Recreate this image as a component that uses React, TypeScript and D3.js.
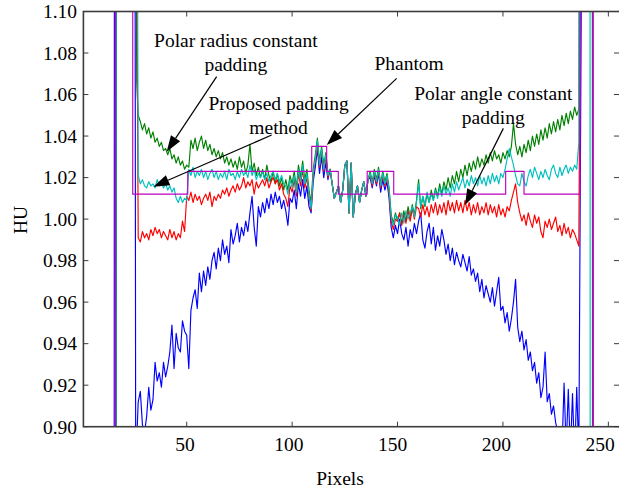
import React from "react";
import * as d3 from "d3";

// x axis = pixel index along the profile, y axis = HU
const xTicks = [50, 100, 150, 200, 250];
const yTicks = [0.9, 0.92, 0.94, 0.96, 0.98, 1.0, 1.02, 1.04, 1.06, 1.08, 1.1];
const yTickLabels = ["0.90", "0.92", "0.94", "0.96", "0.98", "1.00", "1.02", "1.04", "1.06", "1.08", "1.10"];

// profile values in 1/1000 HU, one per pixel starting at firstPixel
const firstPixel = 27;

const blueHU = [
  912, 917, 901, 897, 905, 919, 908, 913, 931, 922, // 27
  926, 919, 931, 924, 929, 936, 949, 928, 945, 938, // 37
  936, 951, 946, 944, 928, 956, 962, 966, 957, 974, // 47
  965, 975, 968, 977, 971, 980, 984, 976, 986, 980, // 57
  990, 983, 987, 979, 995, 988, 992, 998, 989, 996, // 67
  992, 999, 994, 1003, 1011, 996, 987, 1006, 1001, 1008, // 77
  1003, 1010, 1005, 1012, 1007, 1013, 1008, 1011, 1005, 1009, // 87
  1004, 997, 1010, 1008, 1014, 1005, 1017, 1011, 1019, 1010, // 97
  1016, 1006, 1003, 1018, 1025, 1034, 1022, 1030, 1020, 1027, // 107
  1019, 1024, 1017, 1010, 1013, 1016, 1008, 1014, 1026, 1028, // 117
  1003, 1027, 1001, 1012, 1016, 1008, 1014, 1018, 1011, 1019, // 127
  1020, 1015, 1021, 1016, 1022, 1013, 1019, 1014, 1018, 1010, // 137
  996, 991, 997, 993, 1000, 993, 990, 996, 987, 995, // 147
  991, 998, 993, 999, 1003, 990, 986, 994, 998, 988, // 157
  996, 985, 992, 987, 995, 990, 983, 988, 980, 986, // 167
  978, 984, 980, 977, 983, 979, 975, 982, 973, 976, // 177
  970, 974, 965, 971, 962, 968, 964, 960, 967, 958, // 187
  965, 972, 956, 958, 950, 955, 946, 952, 960, 971, // 197
  948, 941, 946, 937, 942, 932, 936, 927, 931, 921, // 207
  926, 914, 919, 936, 912, 916, 906, 910, 902, 898, // 217
  894, 888, 921, 889, 918, 887, 916, 884, 919, 886, // 227
];

const greenHU = [
  1050, 1047, 1043, 1046, 1041, 1044, 1039, 1042, 1037, 1039,
  1035, 1037, 1033, 1034, 1031, 1034, 1029, 1031, 1027, 1030,
  1026, 1028, 1024, 1026, 1025, 1038, 1034, 1039, 1033, 1037,
  1040, 1034, 1038, 1033, 1036, 1031, 1034, 1030, 1033, 1029,
  1032, 1027, 1030, 1026, 1029, 1025, 1028, 1024, 1030, 1025,
  1028, 1022, 1026, 1036, 1023, 1027, 1021, 1025, 1020, 1024,
  1019, 1026, 1021, 1018, 1023, 1017, 1022, 1016, 1020, 1014,
  1019, 1014, 1021, 1017, 1023, 1015, 1026, 1020, 1028, 1019,
  1024, 1014, 1008, 1024, 1031, 1039, 1028, 1035, 1026, 1032,
  1022, 1024, 1017, 1010, 1013, 1016, 1008, 1014, 1026, 1028,
  1003, 1027, 1001, 1012, 1016, 1008, 1014, 1018, 1011, 1019,
  1023, 1018, 1024, 1019, 1025, 1017, 1023, 1018, 1022, 1015,
  1002, 998, 1003, 999, 1003, 998, 1004, 999, 1006, 1001,
  1007, 1002, 1009, 1019, 1005, 1011, 1006, 1012, 1008, 1014,
  1009, 1015, 1011, 1017, 1012, 1018, 1014, 1020, 1015, 1021,
  1017, 1023, 1018, 1024, 1020, 1026, 1021, 1027, 1023, 1028,
  1024, 1030, 1025, 1029, 1026, 1031, 1027, 1032, 1028, 1033,
  1029, 1031, 1027, 1032, 1029, 1033, 1030, 1035, 1046, 1036,
  1031, 1035, 1030, 1036, 1032, 1038, 1033, 1040, 1035, 1041,
  1036, 1043, 1038, 1044, 1039, 1046, 1041, 1047, 1042, 1048,
  1043, 1050, 1045, 1051, 1046, 1052, 1048, 1054, 1050, 1053,
];

const redHU = [
  991, 989, 994, 991, 993, 990, 995, 992, 996, 993,
  995, 991, 994, 992, 990, 995, 991, 994, 990, 993,
  991, 999, 994, 1011, 1009, 1013, 1008, 1012, 1009, 1011,
  1007, 1010, 1012, 1009, 1013, 1006, 1011, 1009, 1012, 1010,
  1014, 1012, 1015, 1011, 1014, 1016, 1013, 1017, 1014, 1016,
  1020, 1015, 1018, 1016, 1019, 1012, 1018, 1015, 1017, 1019,
  1016, 1020, 1015, 1018, 1020, 1017, 1019, 1014, 1017, 1012,
  1010, 1006, 1016, 1013, 1019, 1011, 1022, 1016, 1024, 1015,
  1020, 1011, 1004, 1021, 1028, 1036, 1025, 1033, 1023, 1030,
  1020, 1024, 1017, 1010, 1013, 1016, 1008, 1014, 1026, 1028,
  1003, 1027, 1001, 1012, 1016, 1008, 1014, 1018, 1011, 1019,
  1021, 1016, 1022, 1017, 1023, 1015, 1021, 1016, 1020, 1012,
  999, 995, 1000, 999, 1003, 997, 1002, 998, 1004, 999,
  1005, 1000, 1006, 1005, 1001, 1007, 1002, 1006, 1001, 1007,
  1003, 1008, 1002, 1007, 1003, 1008, 1002, 1009, 1004, 1008,
  1003, 1009, 1004, 1008, 1003, 1009, 1004, 1008, 1002, 1007,
  1003, 1008, 1002, 1006, 1003, 1008, 1002, 1007, 1003, 1006,
  1001, 1007, 1002, 1005, 1001, 1006, 1004, 1009, 1013, 1017,
  1008, 1003, 999, 1002, 997, 1003, 999, 996, 1002, 998,
  1001, 994, 991, 999, 996, 1000, 995, 998, 1001, 994,
  997, 992, 998, 993, 996, 991, 995, 993, 990, 987,
];

const cyanHU = [
  1021, 1017, 1019, 1016, 1015, 1018, 1016, 1017, 1015, 1019,
  1016, 1018, 1015, 1017, 1014, 1016, 1013, 1015, 1010, 1008,
  1011, 1008, 1010, 1009, 1024, 1021, 1025, 1020, 1023, 1021,
  1024, 1020, 1023, 1019, 1022, 1024, 1020, 1023, 1019, 1022,
  1020, 1023, 1019, 1024, 1021, 1022, 1019, 1023, 1020, 1024,
  1021, 1023, 1020, 1026, 1021, 1024, 1019, 1022, 1020, 1023,
  1019, 1022, 1018, 1021, 1023, 1019, 1022, 1018, 1021, 1017,
  1016, 1012, 1019, 1015, 1021, 1013, 1024, 1018, 1026, 1017,
  1022, 1012, 1005, 1022, 1029, 1038, 1026, 1034, 1024, 1031,
  1021, 1024, 1017, 1010, 1013, 1016, 1008, 1014, 1026, 1028,
  1003, 1027, 1001, 1012, 1016, 1008, 1014, 1018, 1011, 1019,
  1022, 1017, 1023, 1018, 1024, 1016, 1022, 1017, 1021, 1014,
  1001, 997, 1002, 1001, 997, 1003, 998, 1004, 1000, 1003,
  1006, 1001, 1008, 1017, 1006, 1011, 1007, 1013, 1008, 1012,
  1009, 1014, 1010, 1015, 1011, 1016, 1012, 1015, 1011, 1017,
  1013, 1018, 1014, 1017, 1020, 1015, 1019, 1016, 1021, 1017,
  1020, 1016, 1021, 1017, 1020, 1016, 1021, 1017, 1022, 1018,
  1021, 1017, 1022, 1020, 1024, 1029, 1034, 1030, 1026, 1021,
  1017, 1016, 1022, 1018, 1016, 1021, 1024, 1020, 1025, 1022,
  1019, 1023, 1020, 1024, 1021, 1019, 1024, 1026, 1022, 1020,
  1025, 1021, 1024, 1026, 1022, 1025, 1023, 1026, 1024, 1037,
];

// edges of the object: [pixel, milli-HU], values off the axis range
const blueLead = [[14, 850], [15.6, 850], [15.7, 1150], [25.5, 1150], [25.8, 880]];
const blueTail = [[237.4, 1150], [242.7, 1150], [242.8, 850], [256, 850]];
const greenLead = [[14, 850], [16.6, 850], [16.7, 1150], [25.9, 1150], [26.3, 1066]];
const greenTail = [[236.3, 1150], [242.4, 1150], [242.5, 850], [256, 850]];
const redLead = [[14, 850], [16.3, 850], [16.4, 1150], [26.2, 1150]];
const redTail = [[236.9, 1150], [242.5, 1150], [242.6, 850], [256, 850]];
const cyanLead = [[14, 850], [16.4, 850], [16.5, 1150], [26.6, 1150]];
const cyanTail = [[236.2, 1150], [241.3, 1150], [241.4, 850], [256, 850]];

// phantom profile (piecewise constant)
const phantomHU = [
  [14, 850], [16.2, 850], [16.2, 1150], [24.4, 1150], [24.4, 1012], [50.5, 1012],
  [50.5, 1023], [109.3, 1023], [109.3, 1035], [116.4, 1035], [116.4, 1023],
  [121.9, 1023], [121.9, 1012], [135.6, 1012], [135.6, 1023], [148.2, 1023],
  [148.2, 1012], [201.3, 1012], [201.3, 1023], [210, 1023], [210, 1012],
  [236.6, 1012], [236.6, 1150], [242.6, 1150], [242.6, 850], [256, 850],
];

// annotations in data units
const labels = [
  { lines: ["Polar radius constant", "padding"], at: [73.3, 1.083] },
  { lines: ["Proposed padding", "method"], at: [93.6, 1.0526] },
  { lines: ["Phantom"], at: [155.5, 1.0718] },
  { lines: ["Polar angle constant", "padding"], at: [195.4, 1.0574] },
];
const arrows = [
  { from: [64.2, 1.0686], to: [40.5, 1.0325] },
  { from: [90.3, 1.0405], to: [34.2, 1.0156] },
  { from: [149.6, 1.0678], to: [116.4, 1.0357] },
  { from: [200.2, 1.0437], to: [182.0, 1.0068] },
];

const W = 619;
const H = 491;
const font = '"Liberation Serif", "Times New Roman", Times, serif';
const fs = 19.5;

const build = (lead: number[][], vals: number[], tail: number[][]) =>
  [...lead, ...vals.map((v, i) => [firstPixel + i, v]), ...tail].map((d) => [d[0], d[1] / 1000]);

const series = [
  { name: "blue", color: "#0000ff", pts: build(blueLead, blueHU, blueTail) },
  { name: "green", color: "#008000", pts: build(greenLead, greenHU, greenTail) },
  { name: "red", color: "#ff0000", pts: build(redLead, redHU, redTail) },
  { name: "cyan", color: "#00bfbf", pts: build(cyanLead, cyanHU, cyanTail) },
  { name: "phantom", color: "#bf00bf", pts: phantomHU.map((d) => [d[0], d[1] / 1000]) },
];

export default function App() {
  const x = d3.scaleLinear().domain([1, 256]).range([83.4, 621]);
  const y = d3.scaleLinear().domain([0.9, 1.1]).range([426.7, 11.5]);
  // tick labels in the source sit slightly left of their ticks
  const xLabel = d3.scaleLinear().domain([50, 250]).range([185, 600]);
  const [x0, x1] = x.range();
  const [y0, y1] = y.range();

  const line = d3
    .line<number[]>()
    .x((d) => x(d[0]))
    .y((d) => y(d[1]));

  const axisColor = "#3c3c3c";
  const txt = { fontFamily: font, fontSize: fs, fill: "#000" };

  return (
    <svg
      width={W}
      height={H}
      style={{ position: "absolute", left: 0, top: 0, background: "#fff", fontFamily: font }}
    >
      <defs>
        <clipPath id="plot">
          <rect x={x0} y={y1} width={x1 - x0} height={y0 - y1} />
        </clipPath>
      </defs>

      <g clipPath="url(#plot)">
        {series.map((s) => (
          <path
            key={s.name}
            d={line(s.pts) || ""}
            fill="none"
            stroke={s.color}
            strokeWidth={1.15}
            strokeLinejoin="round"
          />
        ))}
      </g>

      {/* axes box */}
      <rect x={x0} y={y1} width={x1 - x0} height={y0 - y1} fill="none" stroke={axisColor} strokeWidth={1.6} />

      {xTicks.map((t) => (
        <g key={"x" + t}>
          <line x1={x(t)} x2={x(t)} y1={y0} y2={y0 - 5} stroke={axisColor} strokeWidth={1} />
          <line x1={x(t)} x2={x(t)} y1={y1} y2={y1 + 5} stroke={axisColor} strokeWidth={1} />
          <text x={xLabel(t)} y={450.5} textAnchor="middle" style={txt}>
            {t}
          </text>
        </g>
      ))}

      {yTicks.map((t, i) => (
        <g key={"y" + t}>
          <line x1={x0} x2={x0 + 5} y1={y(t)} y2={y(t)} stroke={axisColor} strokeWidth={1} />
          <line x1={x1} x2={x1 - 7} y1={y(t)} y2={y(t)} stroke={axisColor} strokeWidth={1} />
          <text x={77} y={y(t)} dy="0.35em" textAnchor="end" style={txt}>
            {yTickLabels[i]}
          </text>
        </g>
      ))}

      <text x={340} y={485} textAnchor="middle" style={txt}>
        Pixels
      </text>
      <text transform="translate(27,220) rotate(-90)" textAnchor="middle" style={txt}>
        HU
      </text>

      {/* annotations */}
      {labels.map((l, i) =>
        l.lines.map((t, j) => (
          <text
            key={"l" + i + j}
            x={x(l.at[0])}
            y={y(l.at[1]) + j * 24.5}
            textAnchor="middle"
            style={txt}
          >
            {t}
          </text>
        ))
      )}
      {arrows.map((a, i) => {
        const fx = x(a.from[0]);
        const fy = y(a.from[1]);
        const tx = x(a.to[0]);
        const ty = y(a.to[1]);
        const ang = Math.atan2(ty - fy, tx - fx);
        const len = 16;
        const hw = 5.5;
        const bx = tx - len * Math.cos(ang);
        const by = ty - len * Math.sin(ang);
        const px = -Math.sin(ang) * hw;
        const py = Math.cos(ang) * hw;
        return (
          <g key={"a" + i}>
            <line x1={fx} y1={fy} x2={bx} y2={by} stroke="#000" strokeWidth={1.2} />
            <path d={`M${tx},${ty}L${bx + px},${by + py}L${bx - px},${by - py}Z`} fill="#000" />
          </g>
        );
      })}
    </svg>
  );
}
